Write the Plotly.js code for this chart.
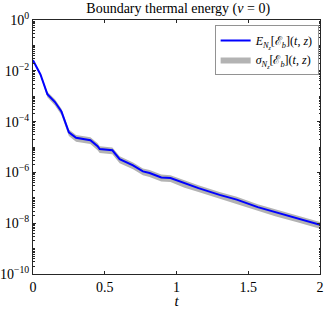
<!DOCTYPE html>
<html>
<head>
<meta charset="utf-8">
<script src="https://cdn.plot.ly/plotly-3.0.1.min.js"></script>
<style>html,body{margin:0;padding:0;background:#fff;}#chart{width:324px;height:309px;}</style>
</head>
<body>
<div id="chart"></div>
<script>
// Time samples
var tValues = [0, 0.052, 0.10, 0.153, 0.198, 0.25, 0.30, 0.40, 0.45, 0.465, 0.553, 0.604, 0.697, 0.766, 0.8125, 0.894, 0.958, 0.988, 1.056, 1.153, 1.30, 1.42, 1.566, 1.6875, 1.854, 2.0];
// Mean boundary thermal energy
var meanEnergy = [2.6e-2, 7.2e-3, 1.2e-3, 5.9e-4, 2.5e-4, 3.8e-5, 2.3e-5, 1.85e-5, 1.07e-5, 8.3e-6, 7.4e-6, 3.3e-6, 1.9e-6, 1.1e-6, 9.5e-7, 6.3e-7, 6.0e-7, 5.2e-7, 3.6e-7, 2.4e-7, 1.3e-7, 8.5e-8, 4.3e-8, 2.7e-8, 1.5e-8, 8.6e-9];
// Standard deviation
var sigmaEnergy = [1.0e-3, 6.0e-4, 3.0e-4, 1.6e-4, 7.0e-5, 1.1e-5, 7.0e-6, 5.5e-6, 3.2e-6, 2.5e-6, 2.2e-6, 1.0e-6, 5.7e-7, 3.3e-7, 2.9e-7, 1.9e-7, 1.8e-7, 1.6e-7, 1.1e-7, 7.2e-8, 3.9e-8, 2.6e-8, 1.3e-8, 8.1e-9, 4.5e-9, 2.6e-9];

var xTickVals = [0, 0.5, 1, 1.5, 2];
var xTickText = ['0', '0.5', '1', '1.5', '2'];
var yTickVals = [1, 1e-2, 1e-4, 1e-6, 1e-8, 1e-10];
var yTickText = ['10<sup>0</sup>', '10<sup>−2</sup>', '10<sup>−4</sup>', '10<sup>−6</sup>', '10<sup>−8</sup>', '10<sup>−10</sup>'];

var upper = meanEnergy.map(function (m, i) { return m + sigmaEnergy[i]; });
var lower = meanEnergy.map(function (m, i) { return m - sigmaEnergy[i]; });

var minorVals = [];
for (var k = -10; k < 0; k++) {
  for (var d = 1; d <= 9; d++) minorVals.push(d * Math.pow(10, k));
}

var serif = '"Liberation Serif", serif';
var axisColor = '#262626';

var traces = [
  { x: tValues, y: lower, type: 'scatter', mode: 'lines', line: { width: 0, color: '#b3b3b3' }, showlegend: false, hoverinfo: 'skip' },
  { x: tValues, y: upper, type: 'scatter', mode: 'lines', fill: 'tonexty', fillcolor: '#b3b3b3', line: { width: 0, color: '#b3b3b3' },
    name: '<i>σ</i><sub><i>N<sub>z</sub></i></sub>[ℰ<sub><i>b</i></sub>](<i>t</i>, <i>z</i>)', showlegend: true },
  { x: tValues, y: meanEnergy, type: 'scatter', mode: 'lines', line: { width: 2, color: '#0000ff' },
    name: '<i>E</i><sub><i>N<sub>z</sub></i></sub>[ℰ<sub><i>b</i></sub>](<i>t</i>, <i>z</i>)' }
];

var layout = {
  width: 324, height: 309,
  margin: { l: 33, r: 4, t: 20, b: 35 },
  paper_bgcolor: '#fff', plot_bgcolor: '#fff',
  font: { family: serif, size: 13, color: '#000' },
  title: { text: 'Boundary thermal energy (<i>ν</i> = 0)', x: 0.55, xanchor: 'center', y: 0.99, yanchor: 'top', font: { family: serif, size: 14, color: '#000' } },
  xaxis: {
    range: [0, 2], tickvals: xTickVals, ticktext: xTickText,
    ticks: 'inside', ticklen: 3, tickcolor: axisColor, showgrid: false, zeroline: false,
    showline: true, linecolor: axisColor, linewidth: 1, mirror: 'ticks',
    title: { text: '<i>t</i>', font: { family: serif, size: 15 }, standoff: 6 },
    tickfont: { family: serif, size: 14 }
  },
  yaxis: {
    type: 'log', range: [-10, 0], tickvals: yTickVals, ticktext: yTickText,
    ticks: 'inside', ticklen: 3, tickcolor: axisColor, showgrid: false, zeroline: false,
    showline: true, linecolor: axisColor, linewidth: 1, mirror: 'ticks',
    minor: { tickvals: minorVals, ticks: 'inside', ticklen: 1.5, tickcolor: axisColor, showgrid: false },
    tickfont: { family: serif, size: 14 }
  },
  legend: {
    x: 0.997, xanchor: 'right', y: 0.978, yanchor: 'top',
    bgcolor: '#fff', bordercolor: '#262626', borderwidth: 0.5,
    font: { family: serif, size: 12 }, traceorder: 'reversed',
    tracegroupgap: 0, itemwidth: 30
  },
  showlegend: true
};

Plotly.newPlot('chart', traces, layout, { displayModeBar: false, staticPlot: true });
</script>
</body>
</html>
